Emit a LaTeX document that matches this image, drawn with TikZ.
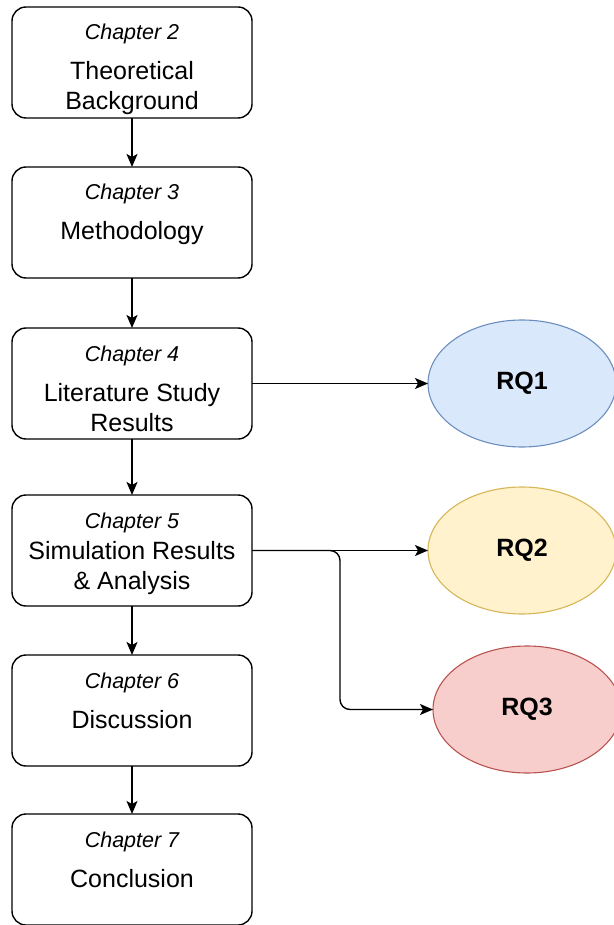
\documentclass[tikz,border=0pt]{standalone}
\usepackage{fontspec}
\setmainfont{Liberation Sans}
\usetikzlibrary{shapes.geometric, arrows.meta, positioning}

% chapter box contents: italic chapter line on top, title below
\newcommand{\chapbox}[3][10pt]{\parbox[c][111pt][t]{240pt}{\centering
    \rule{0pt}{33pt}{\fontsize{21.5}{30}\itshape\selectfont #2}\par
    \vspace{#1}
    \fontsize{25}{30}\selectfont #3\par}}

\begin{document}
\begin{tikzpicture}[
        node distance=49pt and 176pt,
        box/.style={rectangle, draw, rounded corners=14pt, line width=1.4pt, minimum width=240pt, minimum height=111pt, inner sep=0pt, outer sep=0pt},
        rq/.style={ellipse, draw, line width=1.1pt, minimum width=188pt, minimum height=127pt, inner sep=0pt, outer sep=0pt, font=\fontsize{25}{30}\bfseries\selectfont},
        arrow/.style={line width=1.4pt, -{Stealth[length=13pt, width=11pt, inset=3pt]}}
    ]
        \useasboundingbox (0,0) rectangle (613pt,-925pt);

        % Chapters
        \node[box] (c2) at (132pt,-62.5pt) {\chapbox{Chapter 2}{Theoretical\\Background}};
        \node[box, below=of c2] (c3) {\chapbox{Chapter 3}{Methodology}};
        \node[box, below=50pt of c3] (c4) {\chapbox{Chapter 4}{Literature Study\\Results}};
        \node[box, below=56pt of c4] (c5) {\chapbox[1pt]{Chapter 5}{Simulation Results\\\& Analysis}};
        \node[box, below=of c5] (c6) {\chapbox{Chapter 6}{Discussion}};
        \node[box, below=48pt of c6] (c7) {\chapbox{Chapter 7}{Conclusion}};

        % Research questions
        \node[rq, fill={rgb,255:red,218;green,232;blue,252}, draw={rgb,255:red,108;green,142;blue,191}, right=of c4] (rq1) {RQ1};
        \node[rq, fill={rgb,255:red,255;green,242;blue,204}, draw={rgb,255:red,214;green,182;blue,86}, right=of c5] (rq2) {RQ2};
        \node[rq, fill={rgb,255:red,248;green,206;blue,204}, draw={rgb,255:red,184;green,84;blue,80}, below=32pt of rq2, xshift=5pt] (rq3) {RQ3};

        % Edges
        \draw[arrow] (c2) -- (c3);
        \draw[arrow] (c3) -- (c4);
        \draw[arrow] (c4) -- (c5);
        \draw[arrow] (c5) -- (c6);
        \draw[arrow] (c6) -- (c7);

        \draw[arrow] (c4) -- (rq1);
        \draw[arrow] (c5) -- (rq2);
        \draw[arrow, rounded corners=10pt] (c5.east) -- ++(88pt,0) |- (rq3.west);

    \end{tikzpicture}
\end{document}
